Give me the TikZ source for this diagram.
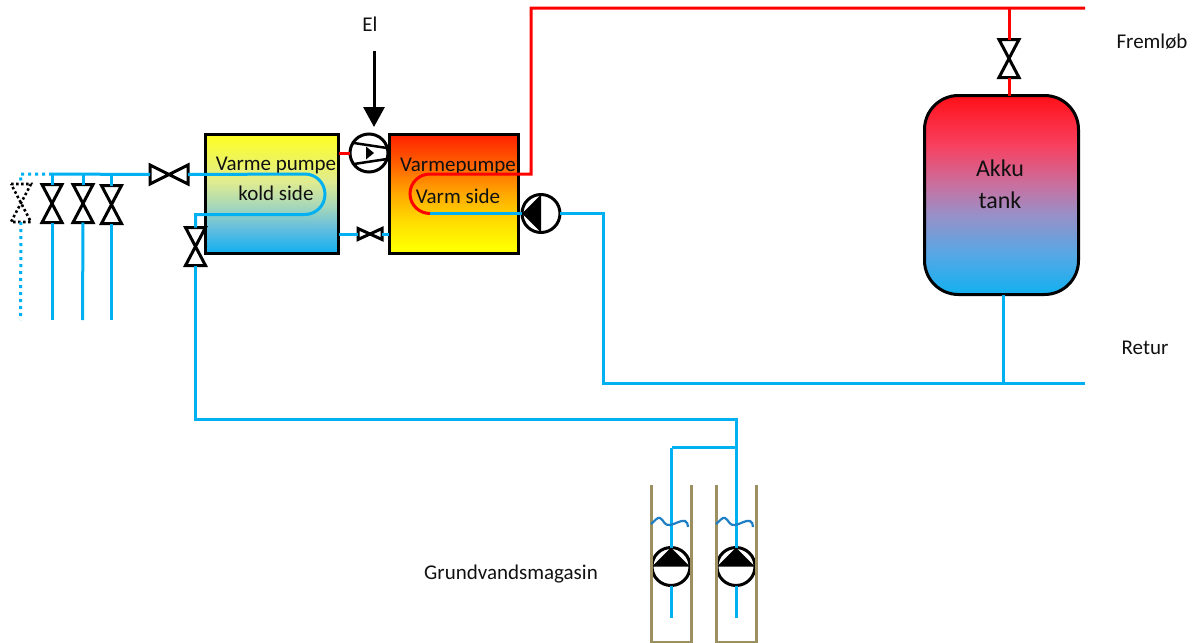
\documentclass[tikz,border=0pt]{standalone}
\usepackage{fontspec}
\setmainfont{Carlito}
\usetikzlibrary{arrows.meta,calc}
\definecolor{pipeblue}{HTML}{00B0F0}
\definecolor{pipered}{HTML}{FF0000}
\definecolor{wellcol}{HTML}{9C9060}
\definecolor{wavecol}{HTML}{1F7FC4}
\definecolor{txt}{HTML}{111111}
\definecolor{c0}{HTML}{FFFF20}\definecolor{c1}{HTML}{E0EC90}\definecolor{c2}{HTML}{A8D8B8}\definecolor{c3}{HTML}{60BDE0}\definecolor{c4}{HTML}{12B0F0}
\definecolor{w0}{HTML}{FF2000}\definecolor{w1}{HTML}{FF6000}\definecolor{w2}{HTML}{FFA800}\definecolor{w3}{HTML}{FFDC00}\definecolor{w4}{HTML}{FFFF00}
\definecolor{k0}{HTML}{FF1018}\definecolor{k1}{HTML}{F84060}\definecolor{k2}{HTML}{C870A0}\definecolor{k3}{HTML}{9890C8}\definecolor{k4}{HTML}{55A8E5}
\pgfdeclareverticalshading{coldsh}{100bp}{color(0bp)=(c4); color(25bp)=(c4); color(35bp)=(c3); color(45bp)=(c2); color(55bp)=(c1); color(75bp)=(c0); color(100bp)=(c0)}
\pgfdeclareverticalshading{warmsh}{100bp}{color(0bp)=(w4); color(27bp)=(w4); color(38.5bp)=(w3); color(50bp)=(w2); color(62.5bp)=(w1); color(75bp)=(w0); color(100bp)=(w0)}
\pgfdeclareverticalshading{tanksh}{100bp}{color(0bp)=(c4); color(25bp)=(c4); color(35bp)=(k4); color(45bp)=(k3); color(52.5bp)=(k2); color(62.5bp)=(k1); color(75bp)=(k0); color(100bp)=(k0)}
\tikzset{
  bluepipe/.style={draw=pipeblue,line width=3pt},
  redpipe/.style={draw=pipered,line width=3pt},
  dotpipe/.style={draw=pipeblue,line width=3pt,dash pattern=on 3pt off 4pt},
  symline/.style={draw=black,line width=3pt,fill=white,line join=miter},
  dotsym/.style={draw=black,line width=2.6pt,dash pattern=on 2.5pt off 2.5pt,fill=white},
  hpbox/.style={draw=black,line width=3pt,inner sep=0pt,outer sep=0pt,minimum width=133pt,minimum height=119pt},
  pumpc/.style={circle,draw=black,line width=3pt,fill=white,inner sep=0pt,outer sep=0pt,minimum size=38pt},
  lbl/.style={text=txt,font=\fontsize{21}{23}\selectfont,inner sep=0pt},
  biglbl/.style={text=txt,font=\fontsize{24}{26}\selectfont,inner sep=0pt},
  well/.style={draw=wellcol,line width=3pt},
  wave/.style={draw=wavecol,line width=2.2pt}
}
\newcommand{\vvalve}[4][symline]{%
  \node[inner sep=0pt,outer sep=0pt,minimum width=20pt,minimum height=38pt] (#2) at (#3,#4) {};
  \draw[#1] (#2.north west)--(#2.north east)--(#2.south west)--(#2.south east)--cycle;}
\newcommand{\hvalve}[6][symline]{%
  \node[inner sep=0pt,outer sep=0pt,minimum width=#5pt,minimum height=#6pt] (#2) at (#3,#4) {};
  \draw[#1] (#2.north west)--(#2.south west)--(#2.north east)--(#2.south east)--cycle;}
\begin{document}
\begin{tikzpicture}[x=1pt,y=-1pt]
\useasboundingbox (0,0) rectangle (1195,643);
% boxes and tank
\node[hpbox,shading=coldsh] (cold) at (272,193.5) {};
\draw[draw=black,line width=3pt] (cold.north west) rectangle (cold.south east);
\node[hpbox,minimum width=129pt,shading=warmsh] (warm) at (453.5,193.5) {};
\draw[draw=black,line width=3pt] (warm.north west) rectangle (warm.south east);
\node[rounded corners=34pt,minimum width=154pt,minimum height=199pt,inner sep=0pt,outer sep=0pt,shading=tanksh] (tank) at (1001.5,195) {};
\draw[draw=black,line width=3pt,rounded corners=34pt] (tank.north west) rectangle (tank.south east);
% labels inside
\node[lbl] (t1) at (276,165) {Varme pumpe};
\node[lbl] (t2) at (276,193) {kold side};
\node[lbl] (t3) at (458,166) {Varmepumpe};
\node[lbl] (t4) at (458,196) {Varm side};
\node[biglbl] (t5) at (1000,168) {Akku};
\node[biglbl] (t6) at (1000,200) {tank};
\node[lbl] (t7) at (370,24.5) {El};
\node[lbl] (t8) at (1152,41.5) {Fremløb};
\node[lbl] (t9) at (1145,348) {Retur};
\node[lbl] (t10) at (511,574) {Grundvandsmagasin};
% symbols
\vvalve[dotsym]{v0}{21}{203}
\vvalve{v1}{52}{203.5}
\vvalve{v2}{83}{203.5}
\vvalve{v3}{111.5}{204.5}
\hvalve{v4}{169}{174.5}{38}{19}
\vvalve{v5}{195.5}{246.5}
\hvalve{v6}{370}{234}{24}{11}
\vvalve{v7}{1009}{58.5}
\node[pumpc] (comp) at (369,153) {};
\node[pumpc] (hpump) at (541,213.5) {};
\node[pumpc] (wp1) at (671,566.5) {};
\node[pumpc] (wp2) at (736,566.5) {};
% coordinates
\coordinate (hdr) at (52,174);
\coordinate (hdrd) at (20.5,174);
\coordinate (e0) at (20.5,320);
\coordinate (e1) at (52,320);
\coordinate (e2) at (82.5,320);
\coordinate (e3) at (111.5,320);
\coordinate (uA) at (305,174);
\coordinate (uB) at (305,214.5);
\coordinate (wA) at (430,174);
\coordinate (wB) at (430,213.5);
\coordinate (supply) at (1085,8);
\coordinate (ret) at (1085,383);
\coordinate (hcorner) at (603.5,213.5);
\coordinate (rcorner) at (603.5,383);
\coordinate (rup) at (531,174);
\coordinate (rtop) at (531,8);
\coordinate (tee) at (1009,8);
\coordinate (tret) at (1003,383);
\coordinate (collect) at (736.5,419);
\coordinate (wt) at (671.5,447.5);
\coordinate (b1) at (671.5,618);
\coordinate (b2) at (736.5,618);
% pipes
\draw[dotpipe] (hdr) -- (hdrd) -- (v0.north);
\draw[dotpipe] (v0.south) -- (e0);
\draw[bluepipe] (hdr) -- (v4.west);
\draw[bluepipe] (v1.north) -- (v1.north |- hdr);
\draw[bluepipe] (v2.north) -- (v2.north |- hdr);
\draw[bluepipe] (v3.north) -- (v3.north |- hdr);
\draw[bluepipe] (v1.south) -- (e1);
\draw[bluepipe] (v2.south) -- (e2);
\draw[bluepipe] (v3.south) -- (e3);
\draw[bluepipe] (v4.east) -- (uA) arc[start angle=90,end angle=-90,x radius=20pt,y radius=20.25pt] -- (uB -| v5.north) -- (v5.north);
\draw[bluepipe] (v5.south) -- (v5.south |- collect) -- (collect) -- (collect |- wp2.north);
\draw[bluepipe] (wt) -- (wt -| collect);
\draw[bluepipe] (wt) -- (wt |- wp1.north);
\draw[bluepipe] (wt |- wp1.south) -- (b1);
\draw[bluepipe] (collect |- wp2.south) -- (b2);
\draw[bluepipe] (cold.east |- v6) -- (v6.west);
\draw[bluepipe] (v6.east) -- (warm.west |- v6);
\draw[bluepipe] (wB) -- (hpump.west);
\draw[bluepipe] (hpump.east) -- (hcorner) -- (rcorner) -- (ret);
\draw[bluepipe] (tret |- tank.south) -- (tret);
\draw[redpipe] (wB) arc[start angle=270,end angle=90,x radius=20pt,y radius=19.75pt] -- (rup) -- (rtop) -- (supply);
\draw[redpipe] (tee) -- (v7.north);
\draw[redpipe] (v7.south) -- (v7.south |- tank.north);
\draw[redpipe] (cold.east |- comp) -- (comp.west);
% inlet arrow
\coordinate (elstart) at (374,51);
\coordinate (eltip) at (374,127);
\draw[draw=black,line width=3pt,-{Triangle[length=20pt,width=21pt]}] (elstart) -- (eltip);
% compressor marks
\draw[black,line width=2.5pt] (354,143) -- (387,148);
\draw[black,line width=2.5pt] (354,164) -- (387,159);
\fill[black] (366,146.5) -- (366,159.5) -- (374,153) -- cycle;
% pump marks
\fill[black] (hpump.north) -- (hpump.south) -- (hpump.west) -- cycle;
\fill[black] (wp1.west) -- (wp1.east) -- (wp1.north) -- cycle;
\fill[black] (wp2.west) -- (wp2.east) -- (wp2.north) -- cycle;
% wells
\draw[well] (651,485) -- (651,642) -- (691,642) -- (691,485);
\draw[well] (716,485) -- (716,642) -- (756,642) -- (756,485);
\foreach \o in {0,65}{
\draw[wave,xshift=\o pt] (651,524) .. controls (655,521) and (657,517) .. (660,518) .. controls (664,520) and (664,526) .. (670,525) .. controls (676,524) and (680,520) .. (685,521) .. controls (687,522) and (688,524) .. (688,527);
}
\end{tikzpicture}
\end{document}
